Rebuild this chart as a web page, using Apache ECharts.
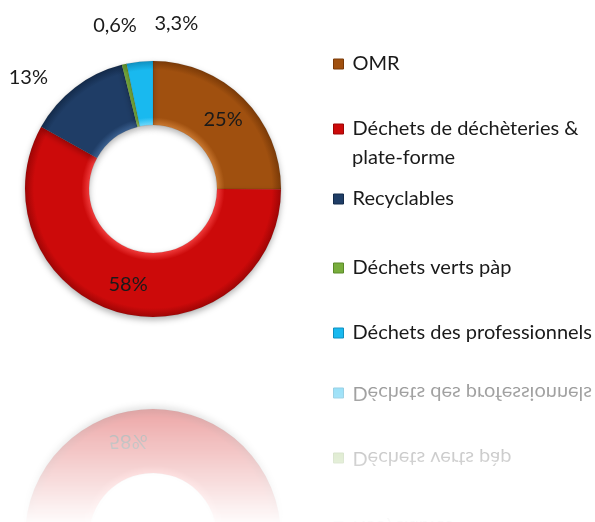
<!DOCTYPE html>
<html>
<head>
<meta charset="utf-8">
<script src="https://cdn.jsdelivr.net/npm/echarts@6/dist/echarts.min.js"></script>
<style>
  html, body { margin: 0; padding: 0; background: #fff; overflow: hidden; }
  #wrap { position: relative; width: 595px; height: 522px; overflow: hidden; }
  #chart { position: absolute; left: 0; top: 0; width: 595px; height: 522px; }
  /* reflet sous le graphique, miroir autour de y = 363 */
  #mirror {
    position: absolute; left: 0; top: 204px; width: 595px; height: 522px;
    transform: scaleY(-1);
    -webkit-mask-image: linear-gradient(to bottom, rgba(0,0,0,0) 38%, rgba(0,0,0,0.5) 69.5%);
    mask-image: linear-gradient(to bottom, rgba(0,0,0,0) 38%, rgba(0,0,0,0.5) 69.5%);
  }
</style>
</head>
<body>
<div id="wrap">
  <div id="mirror"></div>
  <div id="chart"></div>
</div>
<script>
// données
const categories = ['OMR', 'Déchets de déchèteries & plate-forme', 'Recyclables', 'Déchets verts pàp', 'Déchets des professionnels']
const values = [25, 58, 13, 0.6, 3.3]
const valueLabels = ['25%', '58%', '13%', '0,6%', '3,3%']
const colors = ['#a0500f', '#cc0a0a', '#1f3d66', '#78ad3c', '#19b9ef']
const lightColors = ['#c9772f', '#ef3a3a', '#3a5f8f', '#a3d066', '#6fd8fb']
const darkColors = ['#7a3a08', '#9e0505', '#132a4a', '#5a8a28', '#0f90c0']
const legendTops = [54, 119, 189, 258, 323]

const cx = 153
const cy = 189
const rOut = 128
const rIn = 64
const font = 'Lato, "Open Sans", sans-serif'

function bevel (i) {
  // léger effet biseauté comme dans Excel
  return {
    type: 'radial',
    x: cx,
    y: cy,
    r: rOut,
    global: true,
    colorStops: [
      { offset: rIn / rOut, color: lightColors[i] },
      { offset: rIn / rOut + 0.06, color: colors[i] },
      { offset: 0.93, color: colors[i] },
      { offset: 1, color: darkColors[i] }
    ]
  }
}

function buildOption () {
  const data = categories.map((name, i) => {
    const inside = values[i] > 20
    return {
      name: name,
      value: values[i],
      itemStyle: { color: bevel(i) },
      label: { position: inside ? 'inside' : 'outside' }
    }
  })

  const legends = categories.map((name, i) => ({
    orient: 'vertical',
    left: 333,
    top: legendTops[i],
    padding: 0,
    itemWidth: 10,
    itemHeight: 10,
    icon: 'rect',
    selectedMode: false,
    data: [{ name: name, itemStyle: { color: colors[i], borderColor: darkColors[i], borderWidth: 1 } }],
    formatter: n => (n === categories[1] ? 'Déchets de déchèteries &' : n),
    textStyle: { fontFamily: font, fontSize: 20, color: '#1a1a1a', padding: [0, 0, 0, 4] }
  }))

  return {
    animation: false,
    legend: legends,
    graphic: [{
      type: 'text',
      left: 352,
      top: legendTops[1] + 29,
      style: { text: 'plate-forme', font: '20px ' + font, fill: '#1a1a1a' }
    }],
    series: [{
      type: 'pie',
      center: [cx, cy],
      radius: [rIn, rOut],
      startAngle: 90,
      clockwise: true,
      avoidLabelOverlap: false,
      data: data,
      itemStyle: {
        borderColor: 'rgba(0,0,0,0.15)',
        borderWidth: 0.5,
        shadowBlur: 6,
        shadowOffsetY: 3,
        shadowColor: 'rgba(0,0,0,0.3)'
      },
      label: {
        formatter: p => valueLabels[p.dataIndex],
        fontFamily: font,
        fontSize: 20,
        color: '#1a1a1a'
      },
      labelLine: { show: false, length: 15, length2: 8 },
      labelLayout: p => {
        // décalages des étiquettes extérieures comme dans l'original
        const shift = [null, null, { dx: -5, dy: 2 }, { dx: 29, dy: -24 }, { dx: 73, dy: -23 }]
        return shift[p.dataIndex] || {}
      }
    }]
  }
}

const chart = echarts.init(document.getElementById('chart'))
chart.setOption(buildOption())
const mirror = echarts.init(document.getElementById('mirror'))
mirror.setOption(buildOption())
</script>
</body>
</html>
